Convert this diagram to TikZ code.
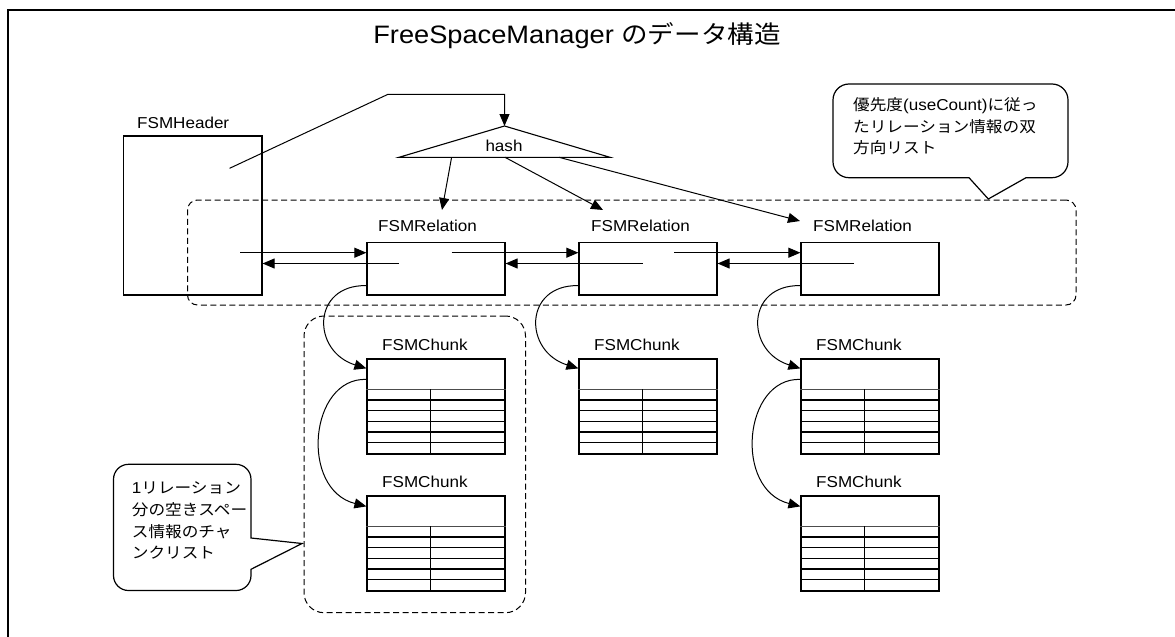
\documentclass[tikz,border=0pt]{standalone}
\usepackage{fontspec}
\setmainfont{Liberation Sans}[FakeStretch=1.08]
\newfontfamily\jp{Noto Sans CJK JP}[FakeStretch=1.08,Scale=0.975]
\usetikzlibrary{arrows.meta,calc}
\tikzset{
  boxed/.style={draw,line width=1.2pt,inner sep=0pt,rectangle},
  relbox/.style={boxed,minimum width=138pt,minimum height=52.7pt},
  chunkbox/.style={boxed,minimum width=138pt,minimum height=95pt},
  grp/.style={draw,line width=1pt,dash pattern=on 6pt off 3.5pt,inner sep=0pt,rectangle},
  lbl/.style={font=\fontsize{15.8}{19}\selectfont,inner sep=0pt},
  ctext/.style={font=\fontsize{15.8}{19}\selectfont,inner sep=0pt,anchor=base west},
  arr/.style={line width=1pt,-{Triangle[length=12pt,width=10pt]}},
  callout/.style={draw,line width=1.2pt},
  tbl/.style={line width=1.4pt}
}
\newcommand\mkchunk[3]{%
  \node[chunkbox] (#1) at (#2+69,#3+47.5) {};
  \node[lbl,anchor=base west] (#1l) at (#2+15,#3-8.8) {FSMChunk};
  \draw[line width=1pt,black!70] ($(#1.north west)+(0,31)$) -- ($(#1.north east)+(0,31)$);
  \foreach \k in {1,...,5}{
    \draw[tbl] ($(#1.north west)+(0,31+\k*10.67)$) -- ($(#1.north east)+(0,31+\k*10.67)$);
  }
  \draw[tbl] ($(#1.north west)+(64,31)$) -- ($(#1.south west)+(64,0)$);
}
\begin{document}
\begin{tikzpicture}[x=1pt,y=-1pt]
\useasboundingbox (0,0) rectangle (1175,637);
\fill[white] (0,0) rectangle (1175,637);
% frame
\draw[line width=1.6pt] (8,637) -- (8,10) -- (1175,10);
% title
\node[font=\fontsize{25.2}{30}\selectfont,anchor=base,inner sep=0pt] (title) at (577,43) {FreeSpaceManager {\jp のデータ構造}};

% groups
\node[grp,rounded corners=10pt,minimum width=888.5pt,minimum height=105pt] (relgrp) at (631.75,252.5) {};
\node[grp,rounded corners=20pt,minimum width=221.5pt,minimum height=296.7pt] (cgrp) at (414.75,464.35) {};

% header
\node[boxed,minimum width=138.4pt,minimum height=159pt] (hdr) at (192.8,215.5) {};
\node[lbl,anchor=base west] (hdrl) at (137,128.3) {FSMHeader};

% relations
\node[relbox] (r1) at (436,268.65) {};
\node[relbox] (r2) at (648,268.65) {};
\node[relbox] (r3) at (870,268.65) {};
\node[lbl,anchor=base west] (r1l) at (378,231.7) {FSMRelation};
\node[lbl,anchor=base west] (r2l) at (591,231.7) {FSMRelation};
\node[lbl,anchor=base west] (r3l) at (813,231.7) {FSMRelation};

% hash triangle
\coordinate (ha) at (504.5,126);
\coordinate (hl) at (399,157.3);
\coordinate (hr) at (610,157.3);
\draw[line width=1.1pt] (hl) -- (ha) -- (hr) -- cycle;
\node[lbl,anchor=base] (hashl) at (504,151.7) {hash};

% header -> hash
\coordinate (hp) at (229.6,168.3);
\coordinate (hk) at (388,94.3);
\draw[arr] (hp) -- (hk) -- (hk -| ha) -- (ha);

% hash -> relations
\coordinate (h1) at (451.6,157.3);
\coordinate (h2) at (505,157.3);
\coordinate (h3) at (559,157.3);
\coordinate (t1) at (442,210);
\coordinate (t2) at (603,210);
\coordinate (t3) at (800,221);
\draw[arr] (h1) -- (t1);
\draw[arr] (h2) -- (t2);
\draw[arr] (h3) -- (t3);

% doubly linked arrows
\coordinate (f0) at (240,252.7);
\coordinate (f1) at (451.6,252.7);
\coordinate (f2) at (674,252.7);
\coordinate (b1) at (399,263.5);
\coordinate (b2) at (642.6,263.5);
\coordinate (b3) at (854,263.5);
\draw[arr] (f0) -- (f0 -| r1.west);
\draw[arr] (f1) -- (f1 -| r2.west);
\draw[arr] (f2) -- (f2 -| r3.west);
\draw[arr] (b1) -- (b1 -| hdr.east);
\draw[arr] (b2) -- (b2 -| r1.east);
\draw[arr] (b3) -- (b3 -| r2.east);

% chunks
\mkchunk{c1a}{367}{359}
\mkchunk{c1b}{367}{496}
\mkchunk{c2a}{579}{359}
\mkchunk{c3a}{801}{359}
\mkchunk{c3b}{801}{496}

% relation -> chunk curves
\foreach \r/\c in {r1/c1a,r2/c2a,r3/c3a}{
  \draw[arr] ($(\r.south west)+(0,-10)$) .. controls ($(\r.south west)+(-55,-11)$) and ($(\c.north west)+(-55,-7)$) .. ($(\c.north west)+(0,10)$);
}
% chunk -> chunk curves
\foreach \a/\b in {c1a/c1b,c3a/c3b}{
  \draw[arr] ($(\a.north west)+(0,21)$) .. controls ($(\a.north west)+(-57,19)$) and ($(\b.north west)+(-67,-6)$) .. ($(\b.north west)+(0,11)$);
}

% right callout
\draw[callout] (969,177.7) -- (988.3,199) -- (1026,177.7)
  {[rounded corners=16pt] -- (1068,177.7) -- (1068,84) -- (833,84) -- (833,177.7)} -- cycle;
\node[ctext] (rc1) at (853,110.5) {{\jp 優先度}(useCount){\jp に従っ}};
\node[ctext] (rc2) at (853,132) {\jp たリレーション情報の双};
\node[ctext] (rc3) at (853,153) {\jp 方向リスト};

% left callout
\draw[callout] (251,538) -- (302,543.5) -- (251,569.3)
  {[rounded corners=15pt] -- (251,590.5) -- (113.5,590.5) -- (113.5,464.3) -- (251,464.3)} -- cycle;
\node[ctext] (lc1) at (131.7,493.5) {1{\jp リレーション}};
\node[ctext] (lc2) at (131.7,515.3) {\jp 分の空きスペー};
\node[ctext] (lc3) at (131.7,537) {\jp ス情報のチャ};
\node[ctext] (lc4) at (131.7,558) {\jp ンクリスト};
\end{tikzpicture}
\end{document}
